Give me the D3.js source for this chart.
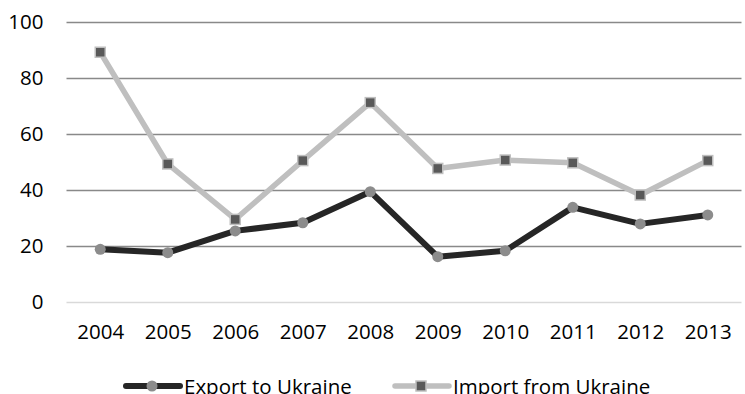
<!DOCTYPE html>
<html>
<head>
<meta charset="utf-8">
<script src="https://cdn.jsdelivr.net/npm/d3@7/dist/d3.min.js"></script>
<style>
  html, body { margin: 0; padding: 0; background: #fff; }
  svg { display: block; font-family: "Open Sans", "Noto Sans", sans-serif; }
</style>
</head>
<body>
<svg id="chart" width="745" height="394"></svg>
<script>
const years = ["2004","2005","2006","2007","2008","2009","2010","2011","2012","2013"];
const exportToUkraine = [18.8, 17.6, 25.4, 28.3, 39.4, 16.2, 18.3, 33.8, 27.9, 31.1];
const importFromUkraine = [89.2, 49.3, 29.5, 50.5, 71.2, 47.7, 50.7, 49.7, 38.2, 50.5];
const yTicks = [0, 20, 40, 60, 80, 100];
const seriesNames = ["Export to Ukraine", "Import from Ukraine"];

const svg = d3.select("#chart");
const margin = { left: 66.5, right: 3.5, top: 22, bottom: 92 };
const W = 745, H = 394;
const fontSize = 20.5;

const x = d3.scalePoint().domain(years)
  .range([margin.left, W - margin.right]).padding(0.5);
const y = d3.scaleLinear().domain([0, 100]).range([H - margin.bottom, margin.top]);

// horizontal gridlines
svg.append("g").selectAll("line").data(yTicks).join("line")
  .attr("x1", margin.left).attr("x2", W - margin.right)
  .attr("y1", d => Math.round(y(d)) + 0.5).attr("y2", d => Math.round(y(d)) + 0.5)
  .attr("stroke", d => d === 0 ? "#d9d9d9" : "#898989")
  .attr("stroke-width", 1.3);

// y-axis labels
const yAxis = d3.axisLeft(y).tickValues(yTicks).tickSize(0).tickPadding(0);
const gy = svg.append("g").attr("transform", `translate(${43.5},0)`).call(yAxis);
gy.select(".domain").remove();
gy.selectAll("text").attr("font-size", fontSize).attr("fill", "#000").attr("font-family", "\"Open Sans\", sans-serif");

// x-axis labels
const xAxis = d3.axisBottom(x).tickSize(0).tickPadding(0);
const gx = svg.append("g").attr("transform", `translate(0,${324})`).call(xAxis);
gx.select(".domain").remove();
gx.selectAll("text").attr("font-size", fontSize).attr("fill", "#000").attr("font-family", "\"Open Sans\", sans-serif");

const line = d3.line().x((d, i) => x(years[i])).y(d => y(d));

// import series
svg.append("path").datum(importFromUkraine)
  .attr("d", line).attr("fill", "none")
  .attr("stroke", "#bfbfbf").attr("stroke-width", 5.5).attr("stroke-linejoin", "round");
svg.append("g").selectAll("rect").data(importFromUkraine).join("rect")
  .attr("x", (d, i) => x(years[i]) - 5).attr("y", d => y(d) - 5)
  .attr("width", 10).attr("height", 10)
  .attr("fill", "#595959").attr("stroke", "#bfbfbf").attr("stroke-width", 1.5);

// export series
svg.append("path").datum(exportToUkraine)
  .attr("d", line).attr("fill", "none")
  .attr("stroke", "#262626").attr("stroke-width", 6).attr("stroke-linejoin", "round");
svg.append("g").selectAll("circle").data(exportToUkraine).join("circle")
  .attr("cx", (d, i) => x(years[i])).attr("cy", d => y(d))
  .attr("r", 5.5).attr("fill", "#8c8c8c");

// legend
const legendY = 386;
const legendBaseline = 393.5;
const lg = svg.append("g");
lg.append("line").attr("x1", 126).attr("x2", 180).attr("y1", legendY).attr("y2", legendY)
  .attr("stroke", "#262626").attr("stroke-width", 6).attr("stroke-linecap", "round");
lg.append("circle").attr("cx", 152).attr("cy", legendY).attr("r", 5.5).attr("fill", "#8c8c8c");
lg.append("text").attr("x", 184).attr("y", legendBaseline)
  .attr("font-size", fontSize).attr("fill", "#000").text(seriesNames[0]);

lg.append("line").attr("x1", 395).attr("x2", 449).attr("y1", legendY).attr("y2", legendY)
  .attr("stroke", "#bfbfbf").attr("stroke-width", 5.5).attr("stroke-linecap", "round");
lg.append("rect").attr("x", 416).attr("y", legendY - 5).attr("width", 10).attr("height", 10)
  .attr("fill", "#595959").attr("stroke", "#bfbfbf").attr("stroke-width", 1.5);
lg.append("text").attr("x", 453).attr("y", legendBaseline)
  .attr("font-size", fontSize).attr("fill", "#000").text(seriesNames[1]);
</script>
</body>
</html>
